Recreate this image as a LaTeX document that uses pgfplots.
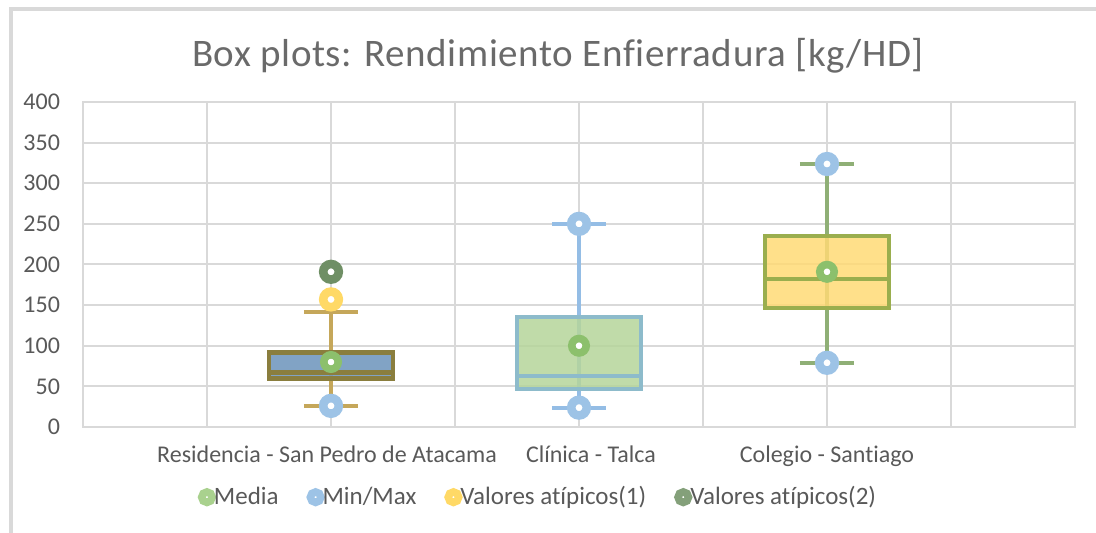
\documentclass[border=0pt]{standalone}
\usepackage{fontspec}
\setmainfont{Carlito}[Ligatures={NoCommon}]
\usepackage{pgfplots}
\pgfplotsset{compat=1.18}
\definecolor{gridc}{HTML}{D9D9D9}
\definecolor{txt}{HTML}{595959}
\definecolor{ttl}{HTML}{6A6A6A}
\definecolor{bAfill}{HTML}{7399BF}
\definecolor{bAline}{HTML}{8A7E3E}
\definecolor{bAwh}{HTML}{C5A75A}
\definecolor{bBfill}{HTML}{B5D59A}
\definecolor{bBline}{HTML}{8DBBCB}
\definecolor{bBwh}{HTML}{94BDE5}
\definecolor{bCfill}{HTML}{FFDA75}
\definecolor{bCline}{HTML}{9AAE4E}
\definecolor{bCwh}{HTML}{8FAF76}
\definecolor{mMedia}{HTML}{8CC06C}
\definecolor{mMinMax}{HTML}{9DC3E6}
\definecolor{mAt1}{HTML}{FFD966}
\definecolor{mAt2}{HTML}{6F8F65}
\definecolor{lAt2}{HTML}{84A07A}
\definecolor{lMedia}{HTML}{A9D18E}
\begin{document}
\begin{tikzpicture}[x=1pt,y=1pt]
\useasboundingbox (0,0) rectangle (548,266.5);
\draw[gridc, line width=1.8pt] (5.5,0) -- (5.5,262) -- (548,262);
\node[anchor=base, text=ttl, font=\fontsize{19.5}{22}\selectfont\addfontfeature{LetterSpace=1.5}] at (279,233) {Box plots: Rendimiento Enfierradura [kg/HD]};
\begin{axis}[
  at={(41.5pt,53pt)}, anchor=south west,
  scale only axis, width=496pt, height=162.5pt,
  xmin=0, xmax=8, ymin=0, ymax=400,
  xtick={0,1,...,8}, xticklabels={},
  ytick={0,50,...,400},
  major tick length=0pt,
  grid=major,
  major grid style={gridc, line width=1pt},
  axis line style={gridc, line width=1pt},
  tick label style={text=txt, font=\fontsize{12}{14}\selectfont},
  /pgf/number format/assume math mode=true,
  yticklabel style={xshift=-8pt},
  extra x ticks={1.968,4.097,6},
  extra x tick labels={Residencia - San Pedro de Atacama, Clínica - Talca, Colegio - Santiago},
  extra x tick style={grid=none, xticklabel style={yshift=-6pt}},
  clip=false,
  legend columns=4,
  legend style={draw=none, fill=none, at={(0.4597,-0.216)}, anchor=center,
    font=\fontsize{12.5}{14}\selectfont, text=txt,
    /tikz/every even column/.append style={column sep=12pt},
    /tikz/every odd column/.append style={column sep=-3pt}},
]
% --- whiskers ---
\addplot[forget plot, bAwh, line width=2pt] coordinates {(2,26) (2,141)};
\addplot[forget plot, bAwh, line width=2pt] coordinates {(1.782,26) (2.218,26)};
\addplot[forget plot, bAwh, line width=2pt] coordinates {(1.782,141) (2.218,141)};
\addplot[forget plot, bBwh, line width=2pt] coordinates {(4,23.8) (4,250)};
\addplot[forget plot, bBwh, line width=2pt] coordinates {(3.782,23.8) (4.218,23.8)};
\addplot[forget plot, bBwh, line width=2pt] coordinates {(3.782,250) (4.218,250)};
\addplot[forget plot, bCwh, line width=2pt] coordinates {(6,79) (6,323.7)};
\addplot[forget plot, bCwh, line width=2pt] coordinates {(5.782,79) (6.218,79)};
\addplot[forget plot, bCwh, line width=2pt] coordinates {(5.782,323.7) (6.218,323.7)};
% --- boxes ---
\addplot[forget plot, draw=bAline, fill=bAfill, fill opacity=0.9, line width=2.3pt] coordinates {(1.5,59.4) (2.5,59.4) (2.5,91.4) (1.5,91.4)} --cycle;
\addplot[forget plot, bAline, line width=2.3pt] coordinates {(1.5,67.3) (2.5,67.3)};
\addplot[forget plot, draw=bBline, fill=bBfill, fill opacity=0.85, line width=2pt] coordinates {(3.5,46.4) (4.5,46.4) (4.5,135) (3.5,135)} --cycle;
\addplot[forget plot, bBline, line width=2pt] coordinates {(3.5,63.2) (4.5,63.2)};
\addplot[forget plot, draw=bCline, fill=bCfill, fill opacity=0.85, line width=2pt] coordinates {(5.5,146) (6.5,146) (6.5,234.7) (5.5,234.7)} --cycle;
\addplot[forget plot, bCline, line width=2pt] coordinates {(5.5,181.7) (6.5,181.7)};
% --- markers ---
\addplot[only marks, mark=*, mark size=3.6pt, mark options={draw=mMedia, fill=white, line width=3.8pt},
  legend image code/.code={\draw[draw=lMedia, fill=white, line width=3.8pt] (0,0) circle (2.6pt);}]
  coordinates {(2,80) (4,100) (6,191)};
\addlegendentry{Media}
\addplot[only marks, mark=*, mark size=3.9pt, mark options={draw=mMinMax, fill=white, line width=4.3pt},
  legend image code/.code={\draw[draw=mMinMax, fill=white, line width=3.8pt] (0,0) circle (2.6pt);}]
  coordinates {(2,26) (4,23.8) (4,250) (6,79) (6,323.7)};
\addlegendentry{Min/Max}
\addplot[only marks, mark=*, mark size=3.9pt, mark options={draw=mAt1, fill=white, line width=4.3pt},
  legend image code/.code={\draw[draw=mAt1, fill=white, line width=3.8pt] (0,0) circle (2.6pt);}]
  coordinates {(2,157)};
\addlegendentry{Valores atípicos(1)}
\addplot[only marks, mark=*, mark size=3.9pt, mark options={draw=mAt2, fill=white, line width=4.3pt},
  legend image code/.code={\draw[draw=lAt2, fill=white, line width=3.8pt] (0,0) circle (2.6pt);}]
  coordinates {(2,191)};
\addlegendentry{Valores atípicos(2)}
\end{axis}
\end{tikzpicture}
\end{document}
